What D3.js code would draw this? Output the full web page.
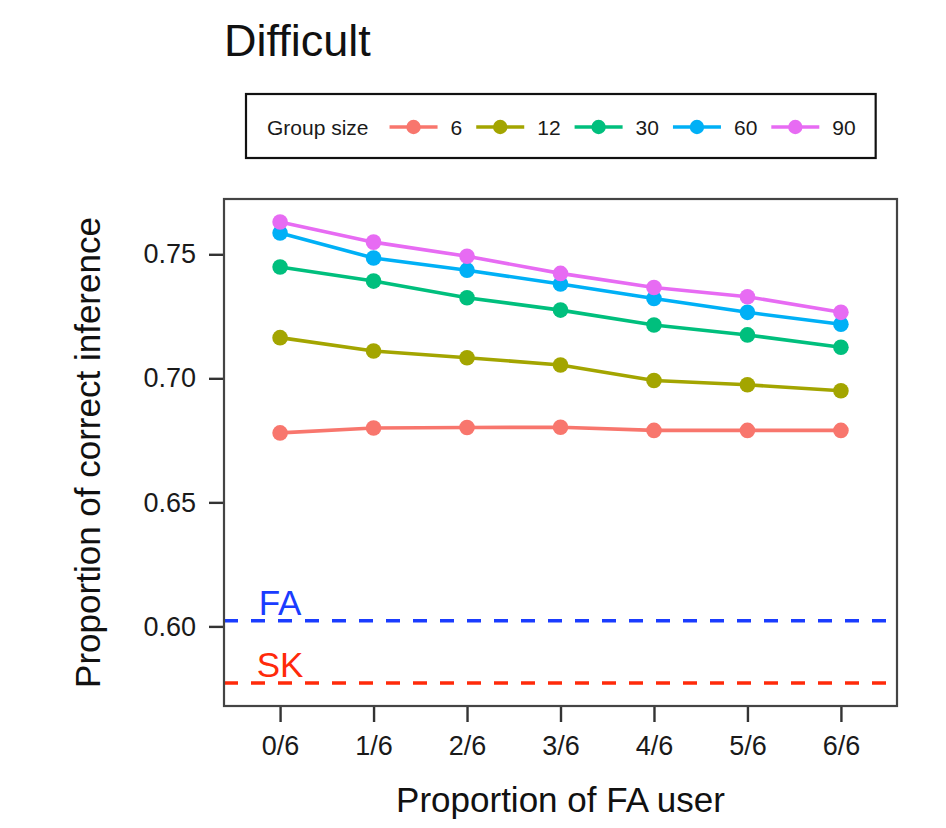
<!DOCTYPE html>
<html>
<head>
<meta charset="utf-8">
<script src="https://cdn.jsdelivr.net/npm/d3@7"></script>
<style>
  body { margin: 0; background: #fff; }
  text { font-family: "Liberation Sans", Arial, Helvetica, sans-serif; }
</style>
</head>
<body>
<div id="chart"></div>
<script>
// x categories: proportion of FA users in the group
const categories = ['0/6', '1/6', '2/6', '3/6', '4/6', '5/6', '6/6'];
// group sizes (legend)
const groupSizes = ['6', '12', '30', '60', '90'];
const groupColors = ['#F8766D', '#A3A500', '#00BF7D', '#00B0F6', '#E76BF3'];
// proportion of correct inference, one array per group size
const size6 = [0.6780, 0.6800, 0.6802, 0.6803, 0.6790, 0.6790, 0.6790];
const size12 = [0.7164, 0.7110, 0.7083, 0.7054, 0.6991, 0.6974, 0.6950];
const size30 = [0.7449, 0.7392, 0.7325, 0.7275, 0.7215, 0.7175, 0.7125];
const size60 = [0.7586, 0.7485, 0.7436, 0.7380, 0.7322, 0.7266, 0.7218];
const size90 = [0.7630, 0.7549, 0.7492, 0.7423, 0.7366, 0.7329, 0.7266];
// reference lines
const refLabels = ['FA', 'SK'];
const refValues = [0.6023, 0.5772];
const refColors = ['#1a3cff', '#ff2a0a'];
const yTicks = [0.60, 0.65, 0.70, 0.75];

const series = [size6, size12, size30, size60, size90];

const width = 946, height = 828;
const margin = {top: 199, right: 49, bottom: 122, left: 224};
const innerW = width - margin.left - margin.right;
const innerH = height - margin.top - margin.bottom;

const svg = d3.select('#chart').append('svg')
	.attr('width', width)
	.attr('height', height);

// discrete x scale, ggplot style expansion of 0.6 units on each side
const x = d3.scalePoint()
	.domain(categories)
	.range([0, innerW])
	.padding(0.6);

// continuous y, 5% expansion of the data range
let allVals = d3.merge(series).concat(refValues);
let lo = d3.min(allVals), hi = d3.max(allVals);
let pad = (hi - lo) * 0.05;
const y = d3.scaleLinear()
	.domain([lo - pad, hi + pad])
	.range([innerH, 0]);

const g = svg.append('g')
	.attr('transform', `translate(${margin.left},${margin.top})`);

// axes
let xAxis = g.append('g')
	.attr('transform', `translate(0,${innerH})`)
	.call(d3.axisBottom(x).tickSize(16).tickPadding(14));
let yAxis = g.append('g')
	.call(d3.axisLeft(y).tickValues(yTicks).tickFormat(d3.format('.2f')).tickSize(15).tickPadding(13));
[xAxis, yAxis].forEach((a) => {
	a.select('.domain').remove();
	a.selectAll('.tick line').attr('stroke', '#333').attr('stroke-width', 2.4);
	a.selectAll('.tick text').attr('fill', '#1a1a1a').style('font-size', '27px');
});
xAxis.selectAll('.tick text').attr('dy', '0.71em');

// reference dashed lines and labels
refValues.forEach((v, i) => {
	g.append('line')
		.attr('x1', 0).attr('x2', innerW)
		.attr('y1', y(v)).attr('y2', y(v))
		.attr('stroke', refColors[i])
		.attr('stroke-width', 3.5)
		.attr('stroke-dasharray', '14,13');
	g.append('text')
		.attr('x', x(categories[0]))
		.attr('y', y(v + 0.0075))
		.attr('dy', '0.36em')
		.attr('text-anchor', 'middle')
		.attr('fill', refColors[i])
		.style('font-size', '35px')
		.text(refLabels[i]);
});

// lines and points
let line = d3.line()
	.x((d, i) => {return x(categories[i]);})
	.y((d) => {return y(d);});
series.forEach((vals, s) => {
	g.append('path')
		.attr('d', line(vals))
		.attr('fill', 'none')
		.attr('stroke', groupColors[s])
		.attr('stroke-width', 3.6);
	g.selectAll(null)
		.data(vals)
		.enter().append('circle')
		.attr('cx', (d, i) => {return x(categories[i]);})
		.attr('cy', (d) => {return y(d);})
		.attr('r', 7.8)
		.attr('fill', groupColors[s]);
});

// panel border
g.append('rect')
	.attr('width', innerW).attr('height', innerH)
	.attr('fill', 'none')
	.attr('stroke', '#444')
	.attr('stroke-width', 2.2);

// axis titles
svg.append('text')
	.attr('x', margin.left + innerW / 2)
	.attr('y', 812)
	.attr('text-anchor', 'middle')
	.attr('fill', '#111')
	.style('font-size', '35px')
	.text('Proportion of FA user');
svg.append('text')
	.attr('transform', `translate(100,${margin.top + innerH / 2}) rotate(-90)`)
	.attr('text-anchor', 'middle')
	.attr('fill', '#111')
	.style('font-size', '35px')
	.text('Proportion of correct inference');

// plot title
svg.append('text')
	.attr('x', 224)
	.attr('y', 56)
	.attr('fill', '#111')
	.style('font-size', '45px')
	.text('Difficult');

// legend, laid out horizontally from measured text widths
let leg = svg.append('g');
let legBox = leg.append('rect')
	.attr('fill', '#fff')
	.attr('stroke', '#111')
	.attr('stroke-width', 2.2);
let legY = 127;
let cx = 267;
let legTitle = leg.append('text')
	.attr('x', cx).attr('y', legY).attr('dy', '0.36em')
	.attr('fill', '#1a1a1a')
	.style('font-size', '21px')
	.text('Group size');
cx += legTitle.node().getComputedTextLength() + 21;
groupSizes.forEach((lab, i) => {
	leg.append('line')
		.attr('x1', cx).attr('x2', cx + 48)
		.attr('y1', legY).attr('y2', legY)
		.attr('stroke', groupColors[i])
		.attr('stroke-width', 3.4);
	leg.append('circle')
		.attr('cx', cx + 24).attr('cy', legY)
		.attr('r', 7.2)
		.attr('fill', groupColors[i]);
	cx += 48 + 13;
	let t = leg.append('text')
		.attr('x', cx).attr('y', legY).attr('dy', '0.36em')
		.attr('fill', '#1a1a1a')
		.style('font-size', '21px')
		.text(lab);
	cx += t.node().getComputedTextLength() + 14;
});
legBox.attr('x', 246).attr('y', 94)
	.attr('width', cx - 14 + 20 - 246)
	.attr('height', 64);
</script>
</body>
</html>
